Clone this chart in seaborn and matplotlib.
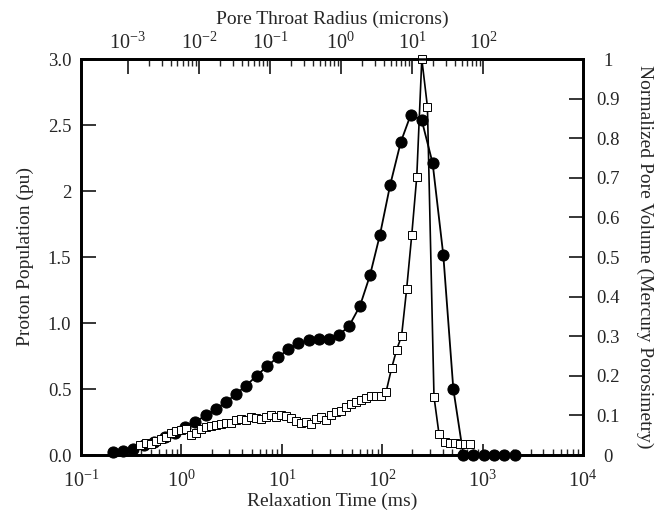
import numpy as np
import pandas as pd
import seaborn as sns
import matplotlib.pyplot as plt
from matplotlib.ticker import FixedLocator, NullFormatter

sns.set_style("ticks")
plt.rcParams["font.family"] = ["Liberation Serif", "DejaVu Serif"]
plt.rcParams["mathtext.fontset"] = "custom"
plt.rcParams["mathtext.rm"] = "Liberation Serif"
plt.rcParams["mathtext.it"] = "Liberation Serif:italic"

# NMR T2 distribution (filled circles, left axis)
nmr_t = [0.21, 0.26, 0.33, 0.42, 0.53, 0.69, 0.86, 1.09, 1.37, 1.75,
         2.21, 2.78, 3.47, 4.40, 5.62, 7.17, 9.10, 11.6, 14.6, 18.7,
         23.6, 29.7, 37.4, 47.0, 60.1, 75.5, 95.1, 120, 153, 192,
         247, 318, 406, 511, 643, 808, 1030, 1300, 1630, 2100]
nmr_pu = [0.025, 0.03, 0.045, 0.075, 0.10, 0.14, 0.17, 0.21, 0.25, 0.30,
          0.35, 0.40, 0.46, 0.525, 0.60, 0.675, 0.74, 0.80, 0.845, 0.87,
          0.88, 0.88, 0.91, 0.98, 1.13, 1.36, 1.67, 2.045, 2.37, 2.575,
          2.54, 2.21, 1.515, 0.50, 0.0, 0.0, 0.0, 0.0, 0.0, 0.0]

# mercury porosimetry (open squares, right axis)
hg_t = [0.39, 0.44, 0.50, 0.56, 0.63, 0.70, 0.79, 0.88, 0.99,
        1.11, 1.25, 1.40, 1.57, 1.76, 1.97,
        2.21, 2.48, 2.78, 3.12, 3.50, 3.93, 4.40, 4.94, 5.54, 6.21, 6.96, 7.80, 8.75, 9.82,
        11.0, 12.4, 13.8, 15.5, 17.4, 19.5, 21.9, 24.6, 27.6, 30.9, 34.7, 38.9, 43.6, 48.9,
        54.8, 61.5, 69.0, 77.3, 86.7, 97.3,
        109, 124, 139, 156, 175, 197, 221, 248, 282, 328, 368, 423, 474, 531, 596, 668, 750]
hg_v = [0.025, 0.03, 0.028, 0.036, 0.04, 0.045, 0.055, 0.06, 0.062,
        0.065, 0.05, 0.055, 0.065, 0.07, 0.072, 0.076, 0.078, 0.08, 0.081,
        0.088, 0.09, 0.088, 0.097, 0.093, 0.09, 0.095, 0.1, 0.097, 0.1,
        0.098, 0.093, 0.085, 0.08, 0.084, 0.078, 0.09, 0.095, 0.088, 0.1,
        0.108, 0.112, 0.122, 0.13, 0.135, 0.14, 0.145, 0.15, 0.15, 0.15, 0.158,
        0.219, 0.265, 0.301, 0.418, 0.556, 0.703, 1.0, 0.88, 0.147, 0.053,
        0.034, 0.03, 0.03, 0.028, 0.028, 0.028]

left_ticks = [0.0, 0.5, 1.0, 1.5, 2.0, 2.5, 3.0]
left_labels = ["0.0", "0.5", "1.0", "1.5", "2", "2.5", "3.0"]
right_ticks = [0, 0.1, 0.2, 0.3, 0.4, 0.5, 0.6, 0.7, 0.8, 0.9, 1.0]
right_labels = ["0", "0.1", "0.2", "0.3", "0.4", "0.5", "0.6", "0.7", "0.8", "0.9", "1"]
top_major = [1e-3, 1e-2, 1e-1, 1e0, 1e1, 1e2]

nmr = pd.DataFrame({"t": nmr_t, "pu": nmr_pu})
hg = pd.DataFrame({"t": hg_t, "v": hg_v})

fig = plt.figure(figsize=(6.65, 5.18), dpi=100)
ax = fig.add_axes([81 / 665, 63 / 518, 502 / 665, 396 / 518])
ax_r = ax.twinx()
ax_t = ax.twiny()

sns.lineplot(data=nmr, x="t", y="pu", ax=ax, color="black", lw=1.3, marker="o",
             markersize=8, markeredgecolor="black", markerfacecolor="black",
             estimator=None, clip_on=False, zorder=5)
sns.lineplot(data=hg, x="t", y="v", ax=ax_r, color="black", lw=1.2, marker="s",
             markersize=5.5, markeredgecolor="black", markerfacecolor="white",
             markeredgewidth=0.7, estimator=None, clip_on=False, zorder=4)

ax.set_xscale("log")
ax.set_xlim(0.1, 1e4)
ax.set_ylim(0, 3.0)
ax_r.set_ylim(0, 1.0)

ax.set_yticks(left_ticks)
ax.set_yticklabels(left_labels)
ax_r.set_yticks(right_ticks)
ax_r.set_yticklabels(right_labels)

# top axis: pore throat radius
ax_t.set_xscale("log")
ax_t.set_xlim(10 ** -3.66, 10 ** 3.41)
ax_t.xaxis.set_major_locator(FixedLocator(top_major))
ax_t.xaxis.set_minor_locator(FixedLocator([k * d for d in top_major[:-1] for k in range(2, 10)]))
ax_t.xaxis.set_minor_formatter(NullFormatter())

ax.tick_params(axis="x", which="major", direction="in", length=8, width=1.3, labelsize=14.5, pad=11)
ax.tick_params(axis="x", which="minor", direction="in", length=4, width=1.0)
ax.tick_params(axis="y", which="major", direction="in", length=11, width=1.3, labelsize=13.5, pad=7)
ax_r.tick_params(axis="y", direction="in", length=10, width=1.3, labelsize=13.5, pad=18)
for lab in ax_r.get_yticklabels():
    lab.set_horizontalalignment("center")
ax_t.tick_params(axis="x", which="major", direction="in", length=11, width=1.3, labelsize=14.5, pad=4)
ax_t.tick_params(axis="x", which="minor", direction="in", length=5, width=1.0)

for a in (ax, ax_r, ax_t):
    for s in a.spines.values():
        s.set_linewidth(1.8)
        s.set_color("black")

ax.set_xlabel("Relaxation Time (ms)", fontsize=14, labelpad=1)
ax.set_ylabel("Proton Population (pu)", fontsize=14, labelpad=10)
ax_r.set_ylabel("Normalized Pore Volume (Mercury Porosimetry)", fontsize=14,
                rotation=-90, labelpad=24)
ax_t.set_xlabel("Pore Throat Radius (microns)", fontsize=14, labelpad=6)

fig.savefig("out.png", dpi=100)
